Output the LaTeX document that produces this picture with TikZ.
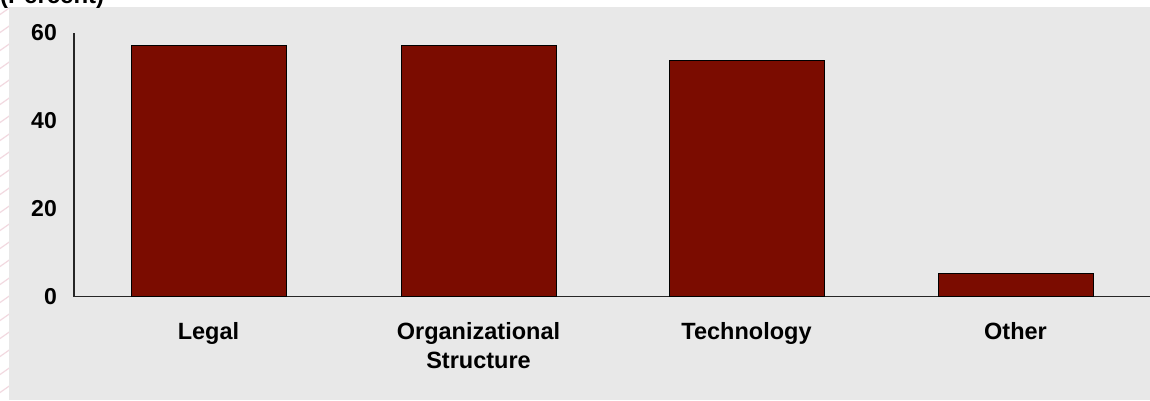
\documentclass[tikz,border=0pt]{standalone}
\usepackage{fontspec}
\setmainfont{Liberation Sans}
\definecolor{panel}{HTML}{E8E8E8}
\definecolor{barred}{HTML}{7B0C00}
\definecolor{stripe}{HTML}{F2D9E0}
\tikzset{
  bar/.style={draw=black, line width=1pt, fill=barred, minimum width=155pt, inner sep=0pt, anchor=south},
  axisline/.style={draw=black!85, line width=1.3pt},
  ticklab/.style={font=\fontsize{23}{27}\selectfont\bfseries, anchor=east, inner sep=0pt},
  catlab/.style={font=\fontsize{23.5}{29}\selectfont\bfseries, align=center, anchor=base, inner sep=0pt},
}
\begin{document}
\begin{tikzpicture}[x=1pt,y=-1pt]
\useasboundingbox (0,0) rectangle (1150,400);
\fill[white] (0,0) rectangle (1150,400);
% faint decorative stripes at left
\begin{scope}
\clip (0,0) rectangle (9,400);
\foreach \k in {0,18,...,420} {\draw[stripe, line width=1.2pt] (-5,\k) -- (15,\k-14);}
\end{scope}
\fill[panel] (9,7) rectangle (1150,400);
% title
\node[font=\fontsize{24}{28}\selectfont\bfseries, anchor=base west, inner sep=0pt] (title) at (0,3) {(Percent)};
% axes
\coordinate (origin) at (74,296.5);
\coordinate (ytop) at (74,33);
\coordinate (xend) at (1150,296.5);
\draw[axisline] (ytop) -- (origin) -- (xend);
% tick labels
\node[ticklab] (t60) at (57,33) {60};
\node[ticklab] (t40) at (57,121) {40};
\node[ticklab] (t20) at (57,208.5) {20};
\node[ticklab] (t0) at (57,296.5) {0};
% bars (4.39 px per unit)
\node[bar, minimum height=250.5pt] (legal) at (208.5,296.5) {};
\node[bar, minimum height=250.5pt] (org) at (478.5,296.5) {};
\node[bar, minimum height=235.5pt] (tech) at (746.5,296.5) {};
\node[bar, minimum height=22.5pt] (other) at (1015.5,296.5) {};
% category labels
\node[catlab] (llegal) at (208.5,339.5) {Legal};
\node[catlab] (lorg) at (478.5,368.5) {Organizational\\Structure};
\node[catlab] (ltech) at (746.5,339.5) {Technology};
\node[catlab] (lother) at (1015.5,339.5) {Other};
\end{tikzpicture}
\end{document}
